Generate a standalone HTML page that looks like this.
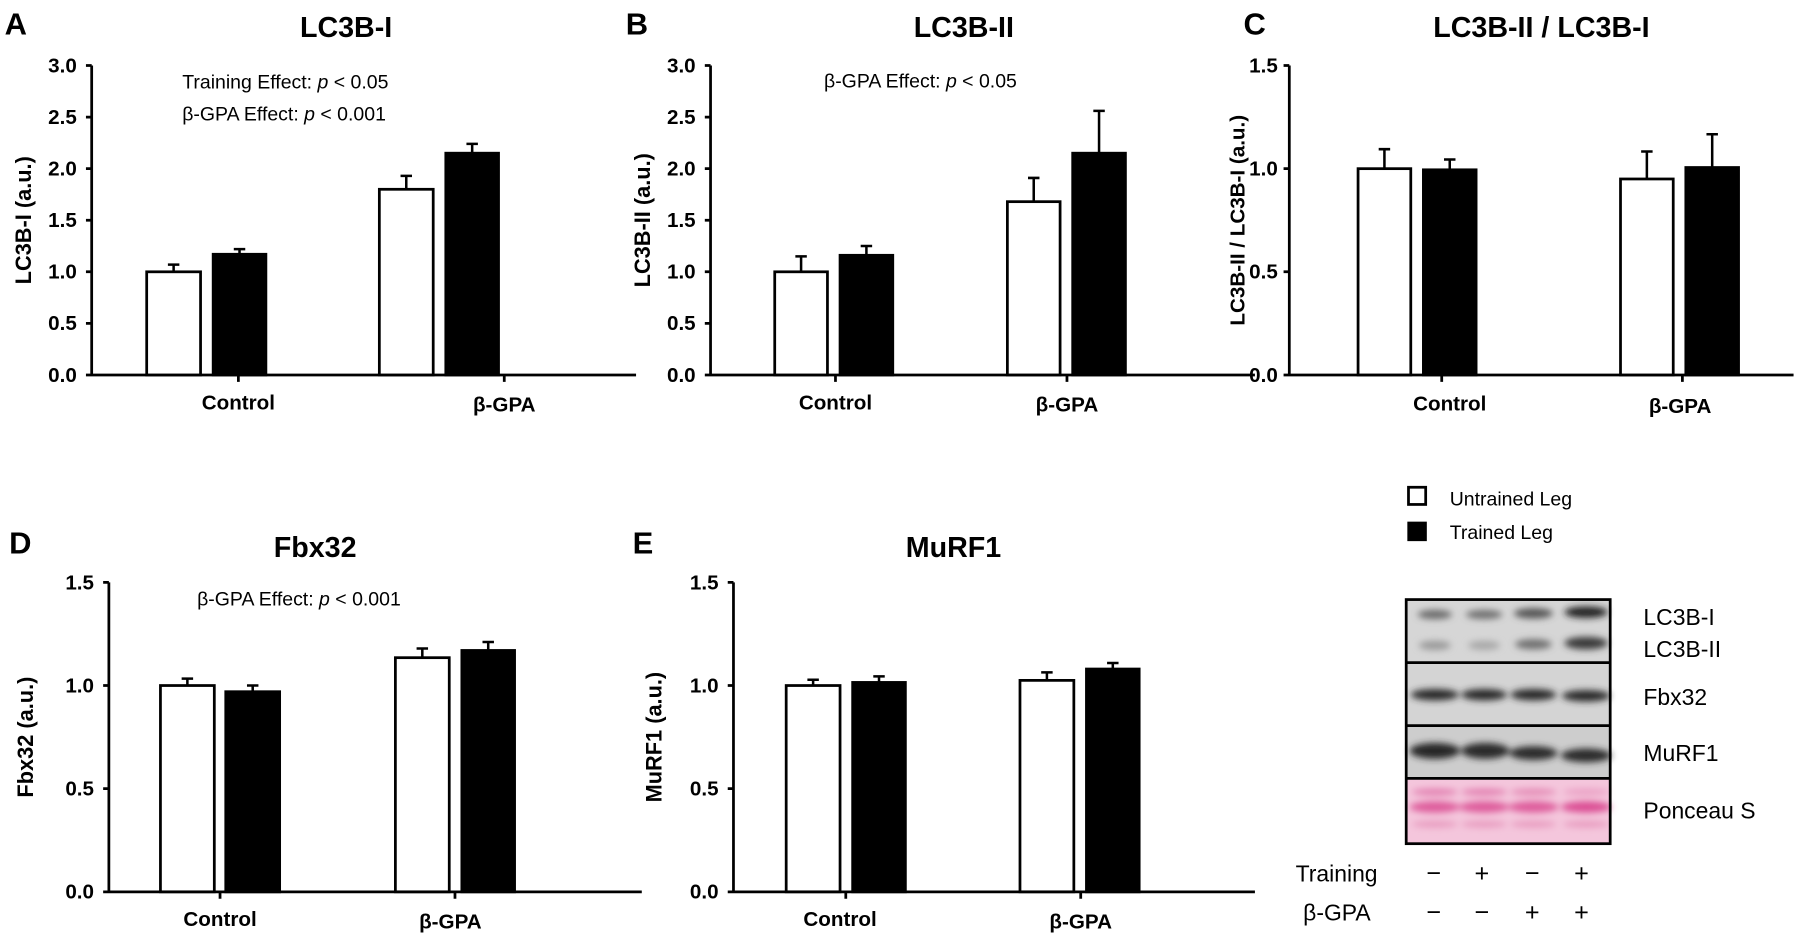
<!DOCTYPE html>
<html><head><meta charset="utf-8"><style>
html,body{margin:0;padding:0;background:#fff;overflow:hidden}
svg{display:block}
text{font-family:"Liberation Sans",Arial,sans-serif;fill:#000}
.t{font-weight:bold;font-size:18px}
.ttl{font-weight:bold;font-size:25px}
.let{font-weight:bold;font-size:27px}
.yl{font-weight:bold;font-size:19px}
.cat{font-weight:bold;font-size:18px}
.an{font-size:17px}
.bl{font-size:20px}
</style></head><body>
<svg width="1797" height="939" viewBox="0 0 1568 819" xmlns="http://www.w3.org/2000/svg">
<defs>
<filter id="bl" x="-30%" y="-100%" width="160%" height="300%"><feGaussianBlur stdDeviation="3"/></filter>
</defs>
<g stroke="#000" stroke-width="2.4" fill="none">
<path d="M80,57V327H555M75,57H80M75,102H80M75,147H80M75,192H80M75,237H80M75,282H80M75,327H80M208,327V333M440,327V333"/>
<path d="M620,57V327H1095M615,57H620M615,102H620M615,147H620M615,192H620M615,237H620M615,282H620M615,327H620M729,327V333M931,327V333"/>
<path d="M1125,57V327H1565M1120,57H1125M1120,147H1125M1120,237H1125M1120,327H1125M1258,327V333M1468,327V333"/>
<path d="M95,508V778H560M90,508H95M90,598H95M90,688H95M90,778H95M192,778V784M397,778V784"/>
<path d="M640,508V778H1095M635,508H640M635,598H640M635,688H640M635,778H640M738,778V784M943,778V784"/>
</g>
<g stroke="#000" stroke-width="2.4">
<rect x="128" y="237" width="47" height="90" fill="#fff"/>
<rect x="186" y="221.7" width="46" height="105.3" fill="#000"/>
<rect x="331" y="165" width="47" height="162" fill="#fff"/>
<rect x="389" y="133.5" width="46" height="193.5" fill="#000"/>
<rect x="676" y="237" width="46" height="90" fill="#fff"/>
<rect x="733" y="222.6" width="46" height="104.4" fill="#000"/>
<rect x="879" y="175.8" width="46" height="151.2" fill="#fff"/>
<rect x="936" y="133.5" width="46" height="193.5" fill="#000"/>
<rect x="1185" y="147" width="46" height="180" fill="#fff"/>
<rect x="1242" y="148" width="46" height="179" fill="#000"/>
<rect x="1414" y="156" width="46" height="171" fill="#fff"/>
<rect x="1471" y="146" width="46" height="181" fill="#000"/>
<rect x="140" y="598" width="47" height="180" fill="#fff"/>
<rect x="197" y="603.4" width="47" height="174.6" fill="#000"/>
<rect x="345" y="573.7" width="47" height="204.3" fill="#fff"/>
<rect x="403" y="567.4" width="46" height="210.6" fill="#000"/>
<rect x="686" y="598" width="47" height="180" fill="#fff"/>
<rect x="744" y="595.3" width="46" height="182.7" fill="#000"/>
<rect x="890" y="593.5" width="47" height="184.5" fill="#fff"/>
<rect x="948" y="583.6" width="46" height="194.4" fill="#000"/>
</g>
<g stroke="#000" stroke-width="2.2" fill="none">
<path d="M151.5,237V230.7M146.5,230.7H156.5M209,221.7V217.2M204,217.2H214M354.5,165V153.3M349.5,153.3H359.5M412,133.5V125.4M407,125.4H417"/>
<path d="M699,237V223.5M694,223.5H704M756,222.6V214.5M751,214.5H761M902,175.8V155.1M897,155.1H907M959,133.5V96.6M954,96.6H964"/>
<path d="M1208,147V130M1203,130H1213M1265,148V139M1260,139H1270M1437,156V132M1432,132H1442M1494,146V117M1489,117H1499"/>
<path d="M163.5,598V592M158.5,592H168.5M220.5,603.4V598M215.5,598H225.5M368.5,573.7V565.7M363.5,565.7H373.5M426,567.4V560M421,560H431"/>
<path d="M709.5,598V593M704.5,593H714.5M767,595.3V590M762,590H772M913.5,593.5V586.5M908.5,586.5H918.5M971,583.6V578.3M966,578.3H976"/>
</g>
<text class="let" x="4" y="30">A</text>
<text class="let" x="546" y="30">B</text>
<text class="let" x="1085" y="30">C</text>
<text class="let" x="8" y="483">D</text>
<text class="let" x="552" y="483">E</text>
<text class="ttl" x="302" y="32" text-anchor="middle">LC3B-I</text>
<text class="ttl" x="841" y="32" text-anchor="middle">LC3B-II</text>
<text class="ttl" x="1345" y="32" text-anchor="middle">LC3B-II / LC3B-I</text>
<text class="ttl" x="275" y="486" text-anchor="middle">Fbx32</text>
<text class="ttl" x="832" y="486" text-anchor="middle">MuRF1</text>
<text class="an" x="159" y="77">Training Effect: <tspan font-style="italic">p</tspan> &lt; 0.05</text>
<text class="an" x="159" y="105">β-GPA Effect: <tspan font-style="italic">p</tspan> &lt; 0.001</text>
<text class="an" x="719" y="76">β-GPA Effect: <tspan font-style="italic">p</tspan> &lt; 0.05</text>
<text class="an" x="172" y="528">β-GPA Effect: <tspan font-style="italic">p</tspan> &lt; 0.001</text>
<g class="t" text-anchor="end">
<text x="67" y="63">3.0</text><text x="67" y="108">2.5</text><text x="67" y="153">2.0</text><text x="67" y="198">1.5</text><text x="67" y="243">1.0</text><text x="67" y="288">0.5</text><text x="67" y="333">0.0</text>
<text x="607" y="63">3.0</text><text x="607" y="108">2.5</text><text x="607" y="153">2.0</text><text x="607" y="198">1.5</text><text x="607" y="243">1.0</text><text x="607" y="288">0.5</text><text x="607" y="333">0.0</text>
<text x="1115" y="63">1.5</text><text x="1115" y="153">1.0</text><text x="1115" y="243">0.5</text><text x="1115" y="333">0.0</text>
<text x="82" y="514">1.5</text><text x="82" y="604">1.0</text><text x="82" y="694">0.5</text><text x="82" y="784">0.0</text>
<text x="627" y="514">1.5</text><text x="627" y="604">1.0</text><text x="627" y="694">0.5</text><text x="627" y="784">0.0</text>
</g>
<g class="cat" text-anchor="middle">
<text x="208" y="357">Control</text><text x="440" y="359">β-GPA</text>
<text x="729" y="357">Control</text><text x="931" y="359">β-GPA</text>
<text x="1265" y="358">Control</text><text x="1466" y="360">β-GPA</text>
<text x="192" y="808">Control</text><text x="393" y="810">β-GPA</text>
<text x="733" y="808">Control</text><text x="943" y="810">β-GPA</text>
</g>
<g class="yl" text-anchor="middle">
<text transform="translate(27,192) rotate(-90)">LC3B-I (a.u.)</text>
<text transform="translate(567,192) rotate(-90)">LC3B-II (a.u.)</text>
<text transform="translate(1086,192) rotate(-90)" style="font-size:18px">LC3B-II / LC3B-I  (a.u.)</text>
<text transform="translate(29,643) rotate(-90)">Fbx32 (a.u.)</text>
<text transform="translate(577,643) rotate(-90)">MuRF1 (a.u.)</text>
</g>
<rect x="1229" y="425" width="15" height="15" fill="#fff" stroke="#000" stroke-width="2.4"/>
<rect x="1228" y="455" width="17" height="17" fill="#000"/>
<text x="1265" y="441" style="font-size:17px">Untrained Leg</text>
<text x="1265" y="470" style="font-size:17px">Trained Leg</text>
<rect x="1228" y="524" width="176" height="54" fill="#d6d6d6"/>
<rect x="1228" y="578" width="176" height="55" fill="#d4d4d4"/>
<rect x="1228" y="633" width="176" height="46" fill="#cdcdcd"/>
<rect x="1228" y="679" width="176" height="57" fill="#f4c6dc"/>
<g filter="url(#bl)">
<ellipse cx="1252" cy="536" rx="15" ry="4" fill="#6a6a6a"/>
<ellipse cx="1295" cy="536" rx="16" ry="4" fill="#707070"/>
<ellipse cx="1338" cy="535" rx="17" ry="4.5" fill="#555"/>
<ellipse cx="1384" cy="534" rx="19" ry="5" fill="#222"/>
<ellipse cx="1252" cy="563" rx="14" ry="4" fill="#9a9a9a"/>
<ellipse cx="1295" cy="563" rx="14" ry="4" fill="#a8a8a8"/>
<ellipse cx="1338" cy="562" rx="16" ry="4.5" fill="#707070"/>
<ellipse cx="1384" cy="561" rx="19" ry="5.5" fill="#3a3a3a"/>
<ellipse cx="1252" cy="606" rx="21" ry="5" fill="#2a2a2a"/>
<ellipse cx="1295" cy="606" rx="20" ry="5" fill="#2a2a2a"/>
<ellipse cx="1338" cy="606" rx="20" ry="5" fill="#2a2a2a"/>
<ellipse cx="1384" cy="607" rx="21" ry="5" fill="#2a2a2a"/>
<ellipse cx="1252" cy="655" rx="22" ry="7" fill="#262626"/>
<ellipse cx="1296" cy="655" rx="21" ry="7" fill="#2a2a2a"/>
<ellipse cx="1338" cy="657" rx="21" ry="6" fill="#2c2c2c"/>
<ellipse cx="1384" cy="659" rx="22" ry="6" fill="#2c2c2c"/>
<ellipse cx="1252" cy="691" rx="20" ry="3" fill="#e27fb0"/>
<ellipse cx="1295" cy="691" rx="20" ry="3" fill="#e27fb0"/>
<ellipse cx="1338" cy="691" rx="20" ry="3" fill="#e48ab5"/>
<ellipse cx="1384" cy="691" rx="20" ry="3" fill="#eaa0c4"/>
<ellipse cx="1252" cy="704" rx="22" ry="5" fill="#de5d9c"/>
<ellipse cx="1295" cy="704" rx="22" ry="5" fill="#de5d9c"/>
<ellipse cx="1338" cy="704" rx="22" ry="5" fill="#de5d9c"/>
<ellipse cx="1384" cy="704" rx="22" ry="5" fill="#db4f94"/>
<ellipse cx="1252" cy="719" rx="20" ry="3" fill="#e89cc0"/>
<ellipse cx="1295" cy="719" rx="20" ry="3" fill="#e89cc0"/>
<ellipse cx="1338" cy="719" rx="20" ry="3" fill="#e89cc0"/>
<ellipse cx="1384" cy="719" rx="20" ry="3" fill="#e89cc0"/>
</g>
<g fill="none" stroke="#000" stroke-width="2.4">
<rect x="1227" y="523" width="178" height="213"/>
<path d="M1227,578H1405M1227,633H1405M1227,679H1405"/>
</g>
<g class="bl">
<text x="1434" y="545">LC3B-I</text>
<text x="1434" y="573">LC3B-II</text>
<text x="1434" y="615">Fbx32</text>
<text x="1434" y="664">MuRF1</text>
<text x="1434" y="714">Ponceau S</text>
<text x="1202" y="769" text-anchor="end">Training</text>
<text x="1196" y="803" text-anchor="end">β-GPA</text>
</g>
<g class="bl" text-anchor="middle" style="font-size:22px">
<text x="1251" y="769">−</text><text x="1293" y="769">+</text><text x="1337" y="769">−</text><text x="1380" y="769">+</text>
<text x="1251" y="803">−</text><text x="1293" y="803">−</text><text x="1337" y="803">+</text><text x="1380" y="803">+</text>
</g>
</svg>
</body></html>
